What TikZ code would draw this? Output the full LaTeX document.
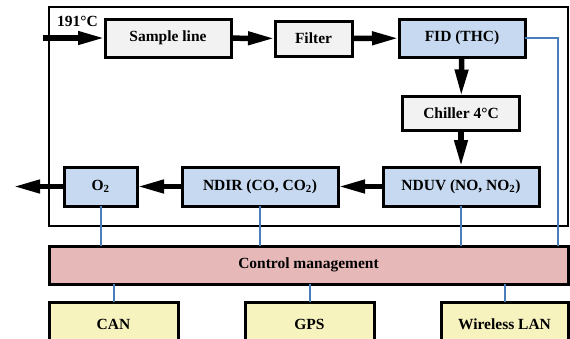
\documentclass[tikz,border=0pt]{standalone}
\usepackage{fontspec}
\setmainfont{Liberation Serif}
\usetikzlibrary{arrows.meta}
\definecolor{boxgray}{HTML}{F2F2F2}
\definecolor{boxblue}{HTML}{C6D9F0}
\definecolor{boxpink}{HTML}{E6B9B8}
\definecolor{boxyellow}{HTML}{F6F3BF}
\definecolor{linkblue}{HTML}{4A7EBB}
\tikzset{
  x=1pt, y=-1pt,
  lbl/.style={font=\fontsize{15.5}{17}\selectfont\bfseries},
  blk/.style={lbl, draw=black, line width=3pt, inner sep=0pt, outer sep=0pt, align=center},
  graybox/.style={blk, fill=boxgray},
  bluebox/.style={blk, fill=boxblue},
  pinkbox/.style={blk, fill=boxpink},
  yellowbox/.style={blk, fill=boxyellow},
  flow/.style={line width=5.5pt, -{Triangle[length=27pt,width=12.5pt]}},
  link/.style={draw=linkblue, line width=2pt},
}
\begin{document}
\begin{tikzpicture}
\useasboundingbox (0,0) rectangle (570,338);
% outer frame
\draw[line width=1.5pt] (49,7) rectangle (568,226);

\node[graybox, minimum width=126pt, minimum height=38pt] (sample) at (168,38) {Sample line};
\node[graybox, minimum width=77pt, minimum height=35pt] (filter) at (313.5,38.5) {Filter};
\node[bluebox, minimum width=126pt, minimum height=38pt] (fid) at (462,38) {FID (THC)};
\node[graybox, minimum width=117pt, minimum height=34pt] (chiller) at (461,113.5) {Chiller 4°C};
\node[bluebox, minimum width=156pt, minimum height=39pt] (nduv) at (461,186.5) {NDUV (NO, NO\textsubscript{2})};
\node[bluebox, minimum width=156pt, minimum height=39pt] (ndir) at (260,186.5) {NDIR (CO, CO\textsubscript{2})};
\node[bluebox, minimum width=73pt, minimum height=39pt] (o2) at (100.5,186.5) {O\textsubscript{2}};
\node[pinkbox, minimum width=519pt, minimum height=38pt] (ctrl) at (308.5,265) {Control management};
\node[yellowbox, minimum width=129pt, minimum height=46pt] (can) at (113.5,325) {\raisebox{2pt}{CAN}};
\node[yellowbox, minimum width=129pt, minimum height=46pt] (gps) at (309.5,325) {\raisebox{2pt}{GPS}};
\node[yellowbox, minimum width=127pt, minimum height=46pt] (wlan) at (504.5,325) {\raisebox{2pt}{Wireless LAN}};

\node[lbl, inner sep=0pt] (temp) at (77.5,21.5) {191°C};

\coordinate (in) at (43,38);
\coordinate (out) at (13,186.5);
\coordinate (fidc) at (558,38);

% flow arrows
\draw[flow] (in) -- (sample);
\draw[flow] (sample) -- (filter);
\draw[flow] (filter) -- (fid);
\draw[flow] (fid) -- (chiller);
\draw[flow] (chiller) -- (nduv.north -| chiller);
\draw[flow] (nduv) -- (ndir);
\draw[flow] (ndir) -- (o2);
\draw[flow] (o2) -- (out);

% data links
\draw[link] (o2.south) -- (o2.south |- ctrl.north);
\draw[link] (ndir.south) -- (ndir.south |- ctrl.north);
\draw[link] (nduv.south) -- (nduv.south |- ctrl.north);
\draw[link] (fid.east) -- (fidc) -- (fidc |- ctrl.north);
\draw[link] (ctrl.south -| can) -- (can.north);
\draw[link] (ctrl.south -| gps) -- (gps.north);
\draw[link] (ctrl.south -| wlan) -- (wlan.north);
\end{tikzpicture}
\end{document}
